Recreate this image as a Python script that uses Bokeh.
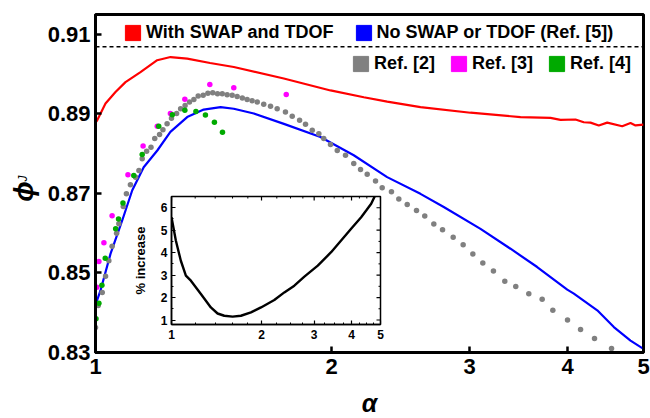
from math import pi
from bokeh.plotting import figure
from bokeh.models import (Range1d, FixedTicker, PrintfTickFormatter, Span, Label,
                          Legend, LegendItem)
from bokeh.embed import file_html
from bokeh.resources import INLINE

FONT = "Liberation Sans"
NAN = float("nan")

# ---------------- data ----------------
x_ticks = [1, 2, 3, 4, 5]
y_ticks = [0.83, 0.85, 0.87, 0.89, 0.91]
hex_packing = 0.9069

red_alpha = [1.0, 1.005, 1.0298, 1.0605, 1.0921, 1.1413, 1.1987, 1.2464, 1.3091, 1.40,
             1.5011, 1.7385, 1.9941, 2.199, 2.3554, 2.5974, 3.0081, 3.4842, 3.8051,
             3.9183, 4.0947, 4.1958, 4.2793, 4.385, 4.4943, 4.6971, 4.8127, 4.8839, 5.0]
red_phi = [0.8878, 0.8884, 0.8926, 0.8955, 0.8980, 0.9005, 0.9035, 0.9043, 0.9039, 0.9028,
           0.9018, 0.8989, 0.8959, 0.8942, 0.8931, 0.8917, 0.8903, 0.8892, 0.8890,
           0.8885, 0.8886, 0.8879, 0.8878, 0.8871, 0.8878, 0.8869, 0.8877, 0.8871, 0.8873]

blue_alpha = [1.0, 1.0148, 1.045, 1.0816, 1.114, 1.152, 1.199, 1.246, 1.309, 1.374,
              1.444, 1.501, 1.592, 1.739, 1.936, 2.135, 2.355, 2.597, 2.781, 3.098,
              3.383, 3.659, 3.997, 4.075, 4.365, 4.583, 4.813, 5.0]
blue_phi = [0.8420, 0.8456, 0.8548, 0.8632, 0.8708, 0.8766, 0.8808, 0.8855, 0.8892, 0.8911,
            0.8917, 0.8913, 0.8901, 0.8875, 0.8842, 0.8796, 0.8741, 0.8699, 0.8666, 0.8611,
            0.8561, 0.8515, 0.8458, 0.8448, 0.8406, 0.8364, 0.8330, 0.8309]

ref2_alpha = [1.000, 1.008, 1.020, 1.030, 1.040, 1.050, 1.064, 1.071, 1.085, 1.095, 1.108,
              1.125, 1.136, 1.147, 1.162, 1.177, 1.190, 1.207, 1.219, 1.234, 1.250, 1.269,
              1.284, 1.301, 1.318, 1.335, 1.352, 1.372, 1.391, 1.411, 1.431, 1.451, 1.472,
              1.494, 1.516, 1.539, 1.561, 1.584, 1.608, 1.639, 1.672, 1.705, 1.747, 1.782,
              1.821, 1.853, 1.890, 1.927, 1.955, 1.994, 2.034, 2.084, 2.135, 2.178, 2.221,
              2.276, 2.321, 2.385, 2.437, 2.498, 2.567, 2.630, 2.701, 2.771, 2.859, 2.944,
              3.029, 3.119, 3.218, 3.327, 3.436, 3.570, 3.713, 3.831, 4.000, 4.156, 4.330,
              4.552]
ref2_phi = [0.8363, 0.8418, 0.8451, 0.8492, 0.8531, 0.8567, 0.8600, 0.8624, 0.8667, 0.8699,
            0.8722, 0.8741, 0.8758, 0.8787, 0.8806, 0.8816, 0.8838, 0.8848, 0.8860, 0.8875,
            0.8889, 0.8901, 0.8913, 0.8921, 0.8930, 0.8936, 0.8945, 0.8947, 0.8952, 0.8953,
            0.8951, 0.8951, 0.8948, 0.8947, 0.8944, 0.8940, 0.8936, 0.8933, 0.8930, 0.8924,
            0.8919, 0.8913, 0.8905, 0.8894, 0.8884, 0.8874, 0.8859, 0.8850, 0.8838, 0.8823,
            0.8808, 0.8796, 0.8775, 0.8760, 0.8748, 0.8731, 0.8714, 0.8704, 0.8686, 0.8672,
            0.8657, 0.8643, 0.8623, 0.8609, 0.8590, 0.8571, 0.8548, 0.8525, 0.8505, 0.8479,
            0.8466, 0.8448, 0.8434, 0.8406, 0.8382, 0.8358, 0.8335, 0.8310]

ref3_alpha = [1.004, 1.010, 1.025, 1.050, 1.100, 1.150, 1.199, 1.246, 1.300, 1.399, 1.501, 1.751]
ref3_phi = [0.8464, 0.8529, 0.8576, 0.8644, 0.8747, 0.8819, 0.8869, 0.8901, 0.8937, 0.8974,
            0.8966, 0.8949]

ref4_alpha = [1.0015, 1.010, 1.019, 1.029, 1.061, 1.070, 1.084, 1.119, 1.147, 1.204, 1.253,
              1.300, 1.343, 1.381, 1.418, 1.452]
ref4_phi = [0.8385, 0.8424, 0.8469, 0.8537, 0.8611, 0.8636, 0.8676, 0.8745, 0.8798, 0.8869,
            0.8898, 0.8909, 0.8906, 0.8897, 0.8879, 0.8854]

inset_alpha = [1.0, 1.034, 1.074, 1.117, 1.161, 1.254, 1.354, 1.426, 1.501, 1.601, 1.707,
               1.844, 1.992, 2.207, 2.384, 2.575, 2.782, 3.085, 3.418, 3.692, 3.988, 4.308,
               4.478, 4.654, 4.80, 4.85]
inset_pct = [5.58, 4.54, 3.65, 2.98, 2.75, 2.16, 1.56, 1.29, 1.19, 1.15, 1.19, 1.34, 1.56,
             1.89, 2.23, 2.53, 2.93, 3.42, 4.02, 4.54, 5.06, 5.58, 5.88, 6.18, 6.55, 6.75]
inset_x_ticks = [1, 2, 3, 4, 5]
inset_x_minor = [1.2, 1.4, 1.6, 1.8, 2.25, 2.5, 2.75, 3.25, 3.5, 3.75, 4.25, 4.5, 4.75]
inset_y_ticks = [1, 2, 3, 4, 5, 6]
inset_y_minor = [1.5, 2.5, 3.5, 4.5, 5.5]

legend_row1 = [("With SWAP and TDOF", "#ff0000"), ("No SWAP or TDOF (Ref. [5])", "#0000ff")]
legend_row2 = [("Ref. [2]", "#808080"), ("Ref. [3]", "#ff00ff"), ("Ref. [4]", "#00aa00")]

# ---------------- main figure ----------------
p = figure(x_axis_type="log", x_range=Range1d(1, 5), y_range=Range1d(0.83, 0.915),
           frame_width=548, frame_height=338,
           min_border_left=95, min_border_right=7, min_border_top=14, min_border_bottom=66,
           output_backend="svg", toolbar_location=None)
p.xgrid.visible = False
p.ygrid.visible = False
p.outline_line_color = "black"
p.outline_line_width = 3
p.outline_line_alpha = 1.0
p.background_fill_color = "white"
p.border_fill_color = "white"

xax = p.below[0]
yax = p.left[0]
xax.ticker = FixedTicker(ticks=x_ticks)
xax.formatter = PrintfTickFormatter(format="%d")
yax.ticker = FixedTicker(ticks=y_ticks)
yax.formatter = PrintfTickFormatter(format="%.2f")
for ax in [xax, yax]:
    ax.axis_line_width = 3
    ax.axis_line_color = "black"
    ax.major_tick_in = 6
    ax.major_tick_out = 0
    ax.major_tick_line_width = 2.5
    ax.major_tick_line_color = "black"
    ax.minor_tick_line_color = None
    ax.major_label_text_font = FONT
    ax.major_label_text_font_style = "bold"
    ax.major_label_text_font_size = "22px"
    ax.major_label_text_color = "black"
yax.major_label_standoff = 5
xax.major_label_standoff = 6
xax.axis_label = "α"
xax.axis_label_text_font = FONT
xax.axis_label_text_font_style = "bold italic"
xax.axis_label_text_font_size = "25px"
xax.axis_label_text_color = "black"
xax.axis_label_standoff = 12

p.add_layout(Span(location=hex_packing, dimension="width", line_color="black",
                  line_width=1.6, line_dash="4 3"))

p.line(red_alpha, red_phi, line_color="#ff0000", line_width=2.2)
p.line(blue_alpha, blue_phi, line_color="#0000ff", line_width=2.2)
p.scatter(ref2_alpha, ref2_phi, size=5.5, fill_color="#808080", line_color=None)
p.scatter(ref3_alpha, ref3_phi, size=5.5, fill_color="#ff00ff", line_color=None)
p.scatter(ref4_alpha, ref4_phi, size=5.5, fill_color="#00aa00", line_color=None)


def make_legend(rows, loc, spacing):
    items = []
    for lab, col in rows:
        r = p.quad(left=[NAN], right=[NAN], top=[NAN], bottom=[NAN],
                   fill_color=col, line_color=col)
        items.append(LegendItem(label=lab, renderers=[r]))
    leg = Legend(items=items, orientation="horizontal", location=loc,
                 border_line_color=None, background_fill_alpha=0, padding=0, margin=0,
                 spacing=spacing, label_standoff=4, glyph_width=19, glyph_height=19,
                 label_height=19, label_text_font=FONT, label_text_font_style="bold",
                 label_text_font_size="18px", label_text_color="black")
    p.add_layout(leg)


make_legend(legend_row1, (28, 309), 20)
make_legend(legend_row2, (256, 278), 14)

# ---------------- y-axis symbol (phi with subscript J), small transparent overlay ----------------
sym = figure(x_range=Range1d(0, 1), y_range=Range1d(0, 1), frame_width=40, frame_height=60,
             min_border_left=0, min_border_right=0, min_border_top=0, min_border_bottom=0,
             x_axis_location=None, y_axis_location=None, output_backend="svg",
             toolbar_location=None,
             styles={"position": "absolute", "left": "3px", "top": "155px"})
sym.xgrid.visible = False
sym.ygrid.visible = False
sym.outline_line_color = None
sym.background_fill_alpha = 0
sym.border_fill_alpha = 0
sym.add_layout(Label(x=20, y=24, x_units="screen", y_units="screen", text="ϕ",
                     angle=pi / 2, text_align="center", text_baseline="middle",
                     text_font=FONT, text_font_size="27px", text_font_style="bold italic",
                     text_color="black"))
sym.add_layout(Label(x=19, y=37, x_units="screen", y_units="screen", text="J",
                     angle=pi / 2, text_align="center", text_baseline="middle",
                     text_font=FONT, text_font_size="12px", text_font_style="italic",
                     text_color="black"))

# ---------------- inset ----------------
ins = figure(x_axis_type="log", x_range=Range1d(1, 5), y_range=Range1d(0.8, 6.5),
             frame_width=209, frame_height=128,
             min_border_left=55, min_border_right=12, min_border_top=12, min_border_bottom=25,
             output_backend="svg", toolbar_location=None,
             styles={"position": "absolute", "left": "116px", "top": "184px"})
ins.xgrid.visible = False
ins.ygrid.visible = False
ins.border_fill_alpha = 0
ins.background_fill_color = "white"
ins.outline_line_color = "black"
ins.outline_line_width = 1.5
ins.outline_line_alpha = 1.0

ins.line(inset_alpha, inset_pct, line_color="black", line_width=2.4)

# mirrored ticks on the top and right edges (half of each dash is clipped by the frame)
x_top = ins.y_range.end
y_right = ins.x_range.end
ins.scatter(inset_x_ticks, [x_top] * len(inset_x_ticks), marker="dash", size=8,
            angle=pi / 2, line_color="black", line_width=1.2)
ins.scatter(inset_x_minor, [x_top] * len(inset_x_minor), marker="dash", size=4,
            angle=pi / 2, line_color="black", line_width=1.0)
ins.scatter([y_right] * len(inset_y_ticks), inset_y_ticks, marker="dash", size=8,
            line_color="black", line_width=1.2)
ins.scatter([y_right] * len(inset_y_minor), inset_y_minor, marker="dash", size=4,
            line_color="black", line_width=1.0)

bx = ins.below[0]
ly = ins.left[0]
bx.ticker = FixedTicker(ticks=inset_x_ticks, minor_ticks=inset_x_minor)
ly.ticker = FixedTicker(ticks=inset_y_ticks, minor_ticks=inset_y_minor)
bx.formatter = PrintfTickFormatter(format="%d")
ly.formatter = PrintfTickFormatter(format="%d")
for ax in [bx, ly]:
    ax.axis_line_width = 1.5
    ax.axis_line_color = "black"
    ax.major_tick_in = 4
    ax.major_tick_out = 0
    ax.minor_tick_in = 2
    ax.minor_tick_out = 0
    ax.major_tick_line_width = 1.2
    ax.minor_tick_line_width = 1.0
    ax.major_tick_line_color = "black"
    ax.minor_tick_line_color = "black"
    ax.major_label_text_font = FONT
    ax.major_label_text_font_style = "bold"
    ax.major_label_text_font_size = "12px"
    ax.major_label_text_color = "black"
bx.major_label_standoff = 5
ly.major_label_standoff = 4
ly.axis_label = "% increase"
ly.axis_label_text_font = FONT
ly.axis_label_text_font_style = "bold"
ly.axis_label_text_font_size = "13px"
ly.axis_label_text_color = "black"
ly.axis_label_standoff = 10

open("out.html", "w").write(file_html([p, sym, ins], INLINE))
